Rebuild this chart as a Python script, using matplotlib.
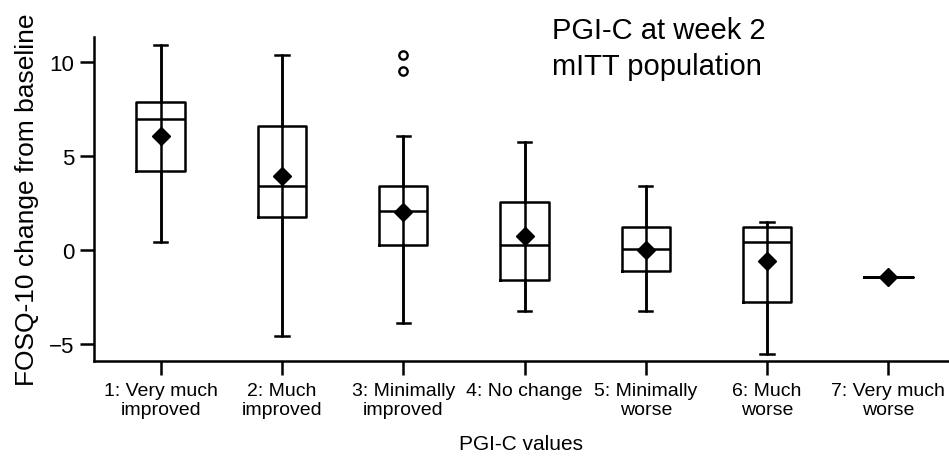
#!/usr/bin/env python3

import matplotlib
import numpy as np

matplotlib.use('Agg')
import matplotlib.pyplot as plt

# FOSQ-10 change from baseline by PGI-C category (week 2, mITT)
categories = ['1: Very much\nimproved', '2: Much\nimproved', '3: Minimally\nimproved',
              '4: No change', '5: Minimally\nworse', '6: Much\nworse', '7: Very much\nworse']
whisker_lo = [0.4, -4.6, -3.9, -3.25, -3.25, -5.55, -1.42]
q1 = [4.2, 1.75, 0.25, -1.6, -1.12, -2.75, -1.42]
medians = [6.95, 3.4, 2.05, 0.25, 0.08, 0.42, -1.42]
q3 = [7.9, 6.6, 3.4, 2.55, 1.25, 1.25, -1.42]
whisker_hi = [10.9, 10.35, 6.05, 5.75, 3.4, 1.5, -1.42]
means = [6.05, 3.95, 2.0, 0.75, 0.0, -0.6, -1.42]
outliers = [[], [], [10.35, 9.55], [], [], [], []]


def run():
    plt.rcParams['font.family'] = ['Liberation Sans', 'DejaVu Sans']

    stats = []
    for i in range(len(categories)):
        stats.append(dict(whislo=whisker_lo[i], q1=q1[i], med=medians[i], q3=q3[i],
                          whishi=whisker_hi[i], mean=means[i],
                          fliers=np.array(outliers[i])))

    fig = plt.figure(figsize=(9.49, 4.64), dpi=100)
    ax = fig.add_axes([0.099, 0.22, 0.901, 0.698])

    lw = 1.8
    line = dict(color='black', linewidth=lw)
    positions = np.arange(1, len(categories) + 1)

    # whisker line runs through the box, cap to cap
    ax.vlines(positions, whisker_lo, whisker_hi, colors='black', linewidth=lw, zorder=1)
    ax.bxp(stats, positions=positions, widths=0.4, capwidths=0.11,
           showmeans=True, showfliers=True,
           boxprops=line, medianprops=line, whiskerprops=line, capprops=line,
           meanprops=dict(marker='D', markerfacecolor='black', markeredgecolor='black',
                          markersize=9.5),
           flierprops=dict(marker='o', markerfacecolor='white', markeredgecolor='black',
                           markersize=6, markeredgewidth=1.7))

    ax.set_xlim(0.45, 7.5)
    ax.set_ylim(-5.9, 11.33)
    ax.set_yticks([-5, 0, 5, 10])
    ax.set_xticks(positions)
    ax.set_xticklabels(categories, fontsize=14, linespacing=1.15)
    ax.tick_params(axis='y', labelsize=16, length=10, width=lw, pad=4)
    ax.tick_params(axis='x', length=10, width=lw, pad=5)

    for side in ('top', 'right'):
        ax.spines[side].set_visible(False)
    for side in ('left', 'bottom'):
        ax.spines[side].set_linewidth(lw)

    ax.set_ylabel('FOSQ-10 change from baseline', fontsize=19, labelpad=7)
    ax.set_xlabel('PGI-C values', fontsize=15, labelpad=12)

    fig.text(552 / 949, 1 - 39 / 464, 'PGI-C at week 2', fontsize=21, va='baseline')
    fig.text(552 / 949, 1 - 75 / 464, 'mITT population', fontsize=21, va='baseline')

    fig.savefig('out.png', dpi=100)


if __name__ == "__main__":
    run()
